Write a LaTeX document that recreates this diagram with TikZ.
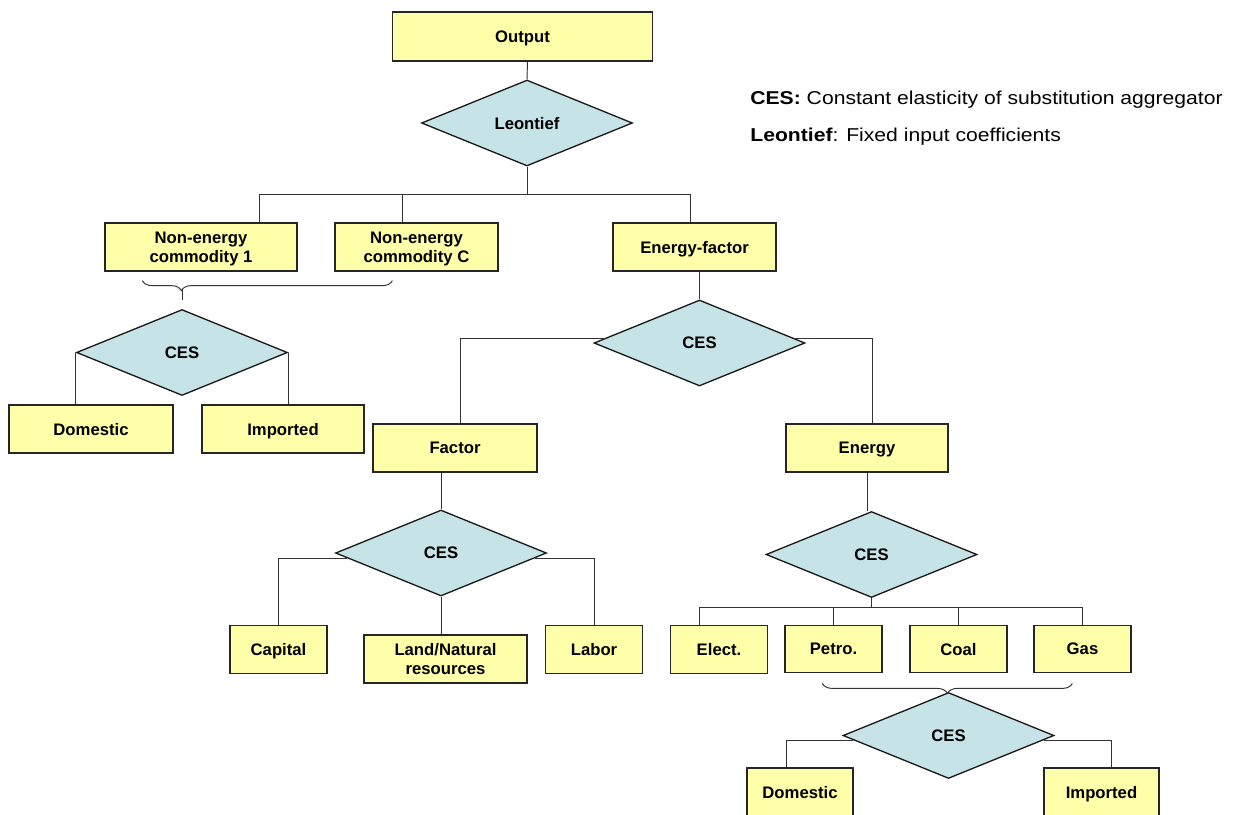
\documentclass[tikz,border=0pt]{standalone}
\usepackage{fontspec}
\setmainfont{Liberation Sans}
\usetikzlibrary{calc, shapes.geometric, decorations.pathreplacing}
\definecolor{boxyellow}{RGB}{255,255,170}
\definecolor{cesblue}{RGB}{198,228,231}
\tikzset
{%
box/.style={draw=black!85, fill=boxyellow, line width=0.75pt, rectangle, inner sep=0pt,
	minimum width=3.26cm, minimum height=0.96cm, align=center, text depth=0pt,
	font=\fontsize{9.5}{10.6}\selectfont\bfseries},
small/.style={minimum width=1.94cm, minimum height=0.95cm},
ces/.style={draw=black!90, fill=cesblue, line width=0.75pt, diamond, inner sep=0pt,
	minimum width=4.22cm, minimum height=1.72cm, text depth=0pt,
	font=\fontsize{9.5}{10.6}\selectfont\bfseries},
link/.style={draw=black!80, line width=0.55pt},
bracelink/.style={draw=black!80, line width=0.55pt, decorate,
	decoration={brace, mirror, amplitude=0.2cm, #1}},
legend/.style={inner sep=0pt, font=\fontsize{10.6}{12}\selectfont}
}
\newcommand{\legwide}[1]{\scalebox{1.135}[1]{#1}}
\begin{document}
\begin{tikzpicture}[x=0.02cm, y=-0.02cm]
	\useasboundingbox (0,0) rectangle (1236,814);
	\clip (0,0) rectangle (1236,814);

		% [TOP]
		\node[box, minimum width=5.2cm, minimum height=0.98cm] (out) at (522.5,36.5) {Output};
		\node[ces] (leon) at (527,123) {Leontief};

		% Legend
		\node[legend, anchor=base west] (legces) at (750,105) {\legwide{\textbf{CES:} Constant elasticity of substitution aggregator}};
		\node[legend, anchor=base west] (legleon) at (750,142) {\legwide{\textbf{Leontief}: Fixed input coefficients}};

		% [NON-ENERGY NEST]
		\node[box, minimum width=3.84cm] (ne1) at (201,247) {Non-energy\\commodity 1};
		\node[box] (nec) at (416.5,247) {Non-energy\\commodity C};
		\node[ces] (cesA) at (182,352.5) {CES};
		\node[box, minimum width=3.28cm] (dom1) at (91,429) {Domestic};
		\node[box, minimum width=3.24cm] (imp1) at (283,429) {Imported};

		% [ENERGY-FACTOR NEST]
		\node[box] (ef) at (694.5,247) {Energy-factor};
		\node[ces] (cesB) at (699.5,343) {CES};

		% Factor
		\node[box, minimum width=3.28cm] (fac) at (455,448) {Factor};
		\node[ces] (cesC) at (441,553) {CES};
		\node[box, small] (cap) at (278.5,649.5) {Capital};
		\node[box] (land) at (445.5,659) {Land/Natural\\resources};
		\node[box, small] (lab) at (594,649.5) {Labor};

		% Energy
		\node[box, minimum width=3.24cm] (en) at (867,448) {Energy};
		\node[ces] (cesD) at (871.5,554.5) {CES};
		\node[box, small] (elec) at (719,649.5) {Elect.};
		\node[box, small] (pet) at (833.5,649) {Petro.};
		\node[box, small] (coal) at (958.5,649) {Coal};
		\node[box, small] (gas) at (1082.5,649) {Gas};
		\node[ces] (cesE) at (948.5,735.5) {CES};
		\node[box, minimum width=2.12cm] (dom2) at (800,792) {Domestic};
		\node[box, minimum width=2.3cm] (imp2) at (1101.5,792) {Imported};

		% [CONNECTORS]
		\coordinate (leonsplit) at ($(leon.south)+(0,28)$);
		\draw[link] ($(out.south)+(5,0)$) -- (leon.north);
		\draw[link] (leon.south) -- (leonsplit);
		\draw[link] (leonsplit) -| ($(ne1.north)+(58,0)$);
		\draw[link] (leonsplit) -| ($(nec.north)+(-14,0)$);
		\draw[link] (leonsplit) -| ($(ef.north)+(-4.5,0)$);

		\draw[bracelink={aspect=0.156}] ($(ne1.south west)+(38,9)$) -- ($(nec.south west)+(58,9)$);
		\draw[link] ($(cesA.north)+(0,-20)$) -- ($(cesA.north)+(0,-9)$);
		\draw[link] (cesA.west) -- (cesA.west |- dom1.north);
		\draw[link] (cesA.east) -- (cesA.east |- imp1.north);

		\draw[link] (cesB.north |- ef.south) -- (cesB.north);
		\draw[link] ($(cesB.west)+(12,-5)$) -| ($(fac.north)+(5,0)$);
		\draw[link] ($(cesB.east)+(-12,-5)$) -| ($(en.north)+(5,0)$);

		\draw[link] (cesC.north |- fac.south) -- (cesC.north);
		\draw[link] ($(cesC.west)+(12,5)$) -| (cap.north);
		\draw[link] ($(cesC.east)+(-12,5)$) -| (lab.north);
		\draw[link] (cesC.south) -- (cesC.south |- land.north);

		\coordinate (cesDsplit) at ($(cesD.south)+(0,9)$);
		\draw[link] (en.south) -- (en.south |- cesD.north);
		\draw[link] (cesD.south) -- (cesDsplit);
		\draw[link] (cesDsplit) -| ($(elec.north)+(-20,0)$);
		\draw[link] (cesDsplit) -| (pet.north);
		\draw[link] (cesDsplit) -| (coal.north);
		\draw[link] (cesDsplit) -| (gas.north);

		\draw[bracelink={aspect=0.5}] ($(pet.south west)+(38,10)$) -- ($(gas.south west)+(39,10)$);
		\draw[link] ($(cesE.west)+(11,4.5)$) -| ($(dom2.north)+(-14,0)$);
		\draw[link] ($(cesE.east)+(-11,4.5)$) -| ($(imp2.north)+(9.5,0)$);
\end{tikzpicture}
\end{document}
